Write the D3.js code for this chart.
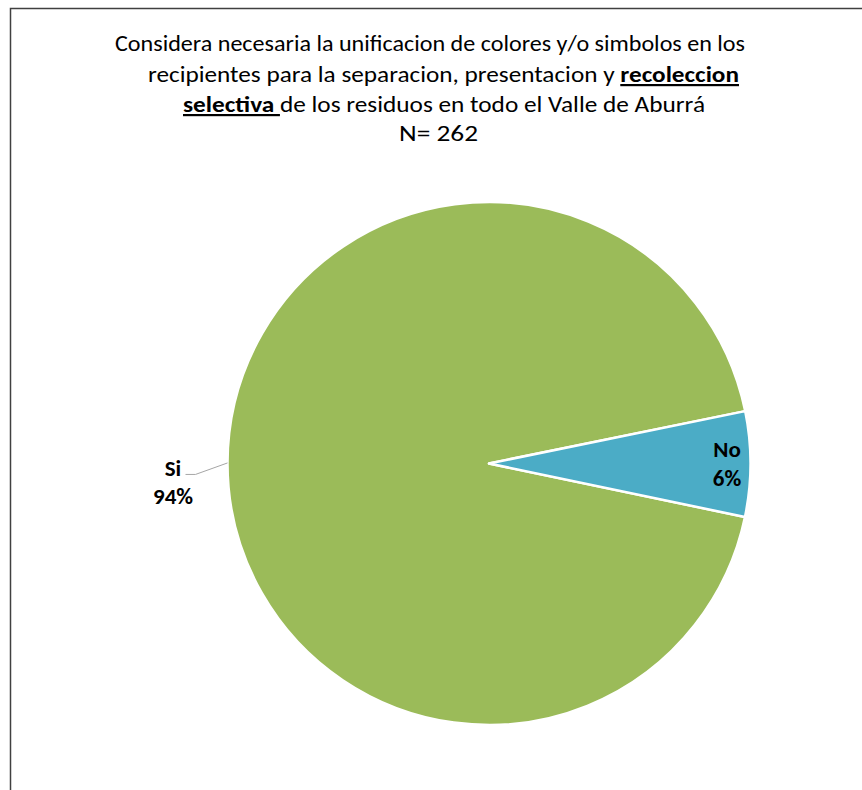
<!DOCTYPE html>
<html>
<head>
<meta charset="utf-8">
<script src="https://cdn.jsdelivr.net/npm/d3@7"></script>
<style>
  html, body { margin: 0; padding: 0; background: #fff; }
  svg { display: block; }
  text { font-family: Carlito, Calibri, Lato, "Liberation Sans", sans-serif; fill: #000; }
</style>
</head>
<body>
<svg id="chart" width="862" height="790"></svg>
<script>
// ---- data ----
const categories = ["Si", "No"];
const counts = [245, 17];
const percentLabels = ["94%", "6%"];
const colors = ["#9BBB59", "#4BACC6"];
const titleLines = [
  [{ t: "Considera necesaria la unificacion de colores y/o simbolos en los", b: false }],
  [{ t: "recipientes para la separacion, presentacion y ", b: false }, { t: "recoleccion", b: true }],
  [{ t: "selectiva ", b: true }, { t: "de los residuos en todo el Valle de Aburrá", b: false }],
  [{ t: "N= 262", b: false }]
];

const W = 862, H = 790;
const svg = d3.select("#chart");

// chart area border (extends past right/bottom edges)
svg.append("rect")
  .attr("x", 10.5).attr("y", 8.5)
  .attr("width", W + 20).attr("height", H + 20)
  .attr("fill", "#fff")
  .attr("stroke", "#404040").attr("stroke-width", 1.5);

// ---- title ----
const baselines = [51, 82, 112, 141];
const spans = [[115, 745], [148, 739], [183, 705], [399, 478]];
const titleSize = 22;
const titleG = svg.append("g");
titleLines.forEach((parts, i) => {
  const [x0, x1] = spans[i];
  const t = titleG.append("text")
    .attr("x", (x0 + x1) / 2).attr("y", baselines[i])
    .attr("text-anchor", "middle")
    .style("font-size", titleSize + "px");
  parts.forEach(p => {
    t.append("tspan")
      .text(p.t)
      .style("font-weight", p.b ? "bold" : "normal")
      .style("text-decoration", p.b ? "underline" : "none");
  });
  t.attr("textLength", x1 - x0).attr("lengthAdjust", "spacingAndGlyphs");
});

// ---- pie ----
const center = [489, 463.5];
const radius = 261.5;
const startDeg = 101.8;
const pie = d3.pie().sort(null)
  .startAngle(startDeg * Math.PI / 180)
  .endAngle(startDeg * Math.PI / 180 + 2 * Math.PI);
const arcs = pie(counts);
const arc = d3.arc().innerRadius(0).outerRadius(radius);

const g = svg.append("g").attr("transform", `translate(${center[0]},${center[1]})`);
g.selectAll("path.slice")
  .data(arcs)
  .join("path")
  .attr("class", "slice")
  .attr("d", arc)
  .attr("fill", (d, i) => colors[i])
  .attr("stroke", "#fff")
  .attr("stroke-width", 2.5)
  .attr("stroke-linejoin", "round");

// ---- labels ----
const labelSize = 23;
const lineGap = 29;

// "No" label inside the slice near the edge
const inArc = d3.arc().innerRadius(238).outerRadius(238);
const noC = inArc.centroid(arcs[1]);
const noT = g.append("text")
  .attr("text-anchor", "middle")
  .style("font-weight", "bold")
  .style("font-size", labelSize + "px");
noT.append("tspan").attr("x", noC[0]).attr("y", noC[1] - 7).text(categories[1]);
noT.append("tspan").attr("x", noC[0]).attr("y", noC[1] - 7 + lineGap).text(percentLabels[1]);

// "Si" label outside with leader line
const edgeArc = d3.arc().innerRadius(radius).outerRadius(radius);
const siEdge = edgeArc.centroid(arcs[0]);
const elbow = [siEdge[0] - 32, siEdge[1] + 11.5];
const lineEnd = [elbow[0] - 10, elbow[1]];
g.append("polyline")
  .attr("points", [siEdge, elbow, lineEnd].map(p => p.join(",")).join(" "))
  .attr("fill", "none")
  .attr("stroke", "#A6A6A6")
  .attr("stroke-width", 1);
const siX = lineEnd[0] - 12.5;
const siT = g.append("text")
  .attr("text-anchor", "middle")
  .style("font-weight", "bold")
  .style("font-size", labelSize + "px");
siT.append("tspan").attr("x", siX).attr("y", lineEnd[1] + 1.5).text(categories[0]);
siT.append("tspan").attr("x", siX).attr("y", lineEnd[1] + 1.5 + lineGap - 1).text(percentLabels[0]);
</script>
</body>
</html>
